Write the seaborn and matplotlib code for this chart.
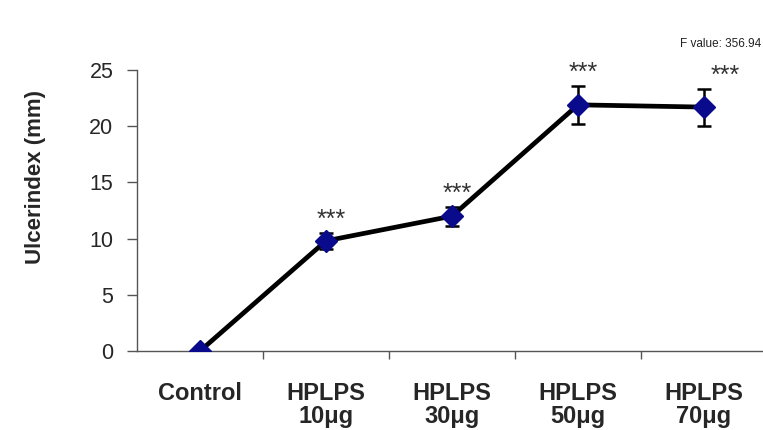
import matplotlib
matplotlib.use("Agg")
import matplotlib.pyplot as plt
import seaborn as sns
import pandas as pd
import numpy as np
from matplotlib.ticker import FixedLocator, NullFormatter

# ---- data ----
categories = ["Control", "HPLPS\n10μg", "HPLPS\n30μg", "HPLPS\n50μg", "HPLPS\n70μg"]
ulcer_index = [0.0, 9.8, 12.0, 21.9, 21.7]
sem = [0.0, 0.7, 0.85, 1.7, 1.65]
significance = ["", "***", "***", "***", "***"]
f_value_text = "F value: 356.94"
y_ticks = [0, 5, 10, 15, 20, 25]

sns.set_theme(style="white")
plt.rcParams['font.family'] = ['Liberation Sans', 'DejaVu Sans']

df = pd.DataFrame({"group": categories, "value": ulcer_index, "err": sem})

fig = plt.figure(figsize=(7.63, 4.30), dpi=100)
ax = fig.add_axes([137/763, 1 - 351/430, 630/763, (351 - 70)/430])

sns.pointplot(data=df, x="group", y="value", order=categories, color="black",
              markers="", linestyles="-", errorbar=None, ax=ax,
              linewidth=3.4)
xs = np.arange(len(categories))
ax.errorbar(xs, df["value"], yerr=df["err"], fmt="none", ecolor="black",
            elinewidth=1.8, capsize=5, capthick=1.8, zorder=3)
ax.plot(xs, df["value"], linestyle="none", marker="D", markersize=11,
        markerfacecolor="#0a0a8c", markeredgecolor="#0a0a8c", zorder=4)

# significance stars
for i, (v, e, s) in enumerate(zip(ulcer_index, sem, significance)):
    if s:
        dx = 0.17 if i == len(categories) - 1 else 0.04
        ax.text(i + dx, v + e + 1.15, s, ha="center", va="center",
                fontsize=18, color="#333333")

ax.set_xlim(-0.5, len(categories) - 0.5)
ax.set_ylim(0, 25)
ax.set_yticks(y_ticks)
ax.tick_params(axis="y", labelsize=15.5, length=7, width=1, color="#555555",
               direction="out", left=True, pad=10)
ax.set_xticks(xs)
ax.set_xticklabels(categories, fontsize=17, fontweight="bold", linespacing=1.0)
ax.tick_params(axis="x", which="major", length=0, pad=22)
ax.xaxis.set_minor_locator(FixedLocator(np.arange(0.5, len(categories) - 1, 1.0)))
ax.xaxis.set_minor_formatter(NullFormatter())
ax.tick_params(axis="x", which="minor", length=6, width=1, color="#555555",
               direction="out", bottom=True)

ax.set_xlabel("")
ax.set_ylabel("Ulcerindex (mm)", fontsize=16, fontweight="bold")
ax.yaxis.set_label_coords(-0.144, 0.62)

for side in ["top", "right"]:
    ax.spines[side].set_visible(False)
for side in ["left", "bottom"]:
    ax.spines[side].set_color("#555555")
    ax.spines[side].set_linewidth(1)

fig.text(721/763, 1 - 44/430, f_value_text, ha="center", va="center",
         fontsize=8.5, color="#222222")

fig.savefig("out.png", dpi=100, facecolor="white")
